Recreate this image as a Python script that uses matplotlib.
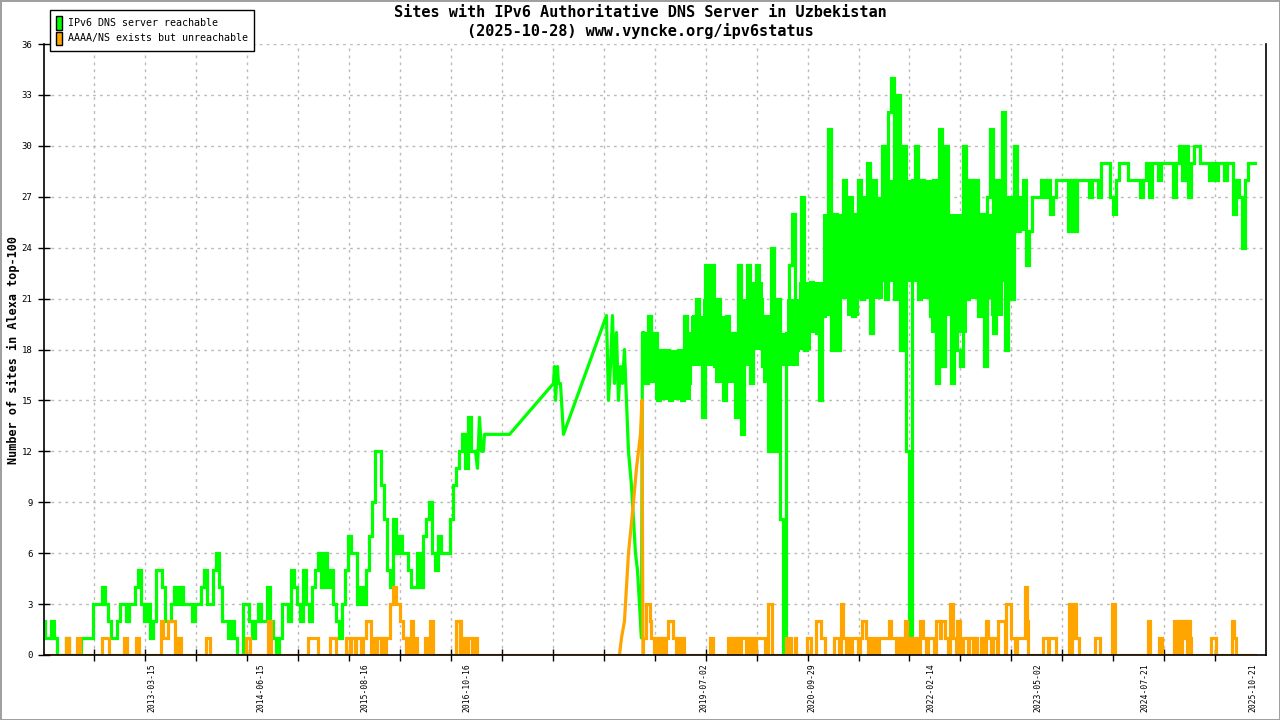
import numpy as np
import matplotlib.pyplot as plt
from matplotlib.patches import Patch

plt.rcParams['font.family'] = ['DejaVu Sans Mono']

# x axis is a plain sample position, one grid cell = 50.94 units
GRID = 50.94
X_MAX = 24 * GRID

title = "Sites with IPv6 Authoritative DNS Server in Uzbekistan\n(2025-10-28) www.vyncke.org/ipv6status"
y_label = "Number of sites in Alexa top-100"
series_names = ["IPv6 DNS server reachable", "AAAA/NS exists but unreachable"]

date_labels = ["2013-03-15", "2014-06-15", "2015-08-16", "2016-10-16", "2019-07-02",
               "2020-09-29", "2022-02-14", "2023-05-02", "2024-07-21", "2025-10-21"]
date_pos = [108.5, 217.5, 321.5, 423.5, 660.5, 768.5, 887.5, 994.5, 1101.5, 1209.5]

y_ticks = list(range(0, 37, 3))

# reachable: first dense stretch (one value every 3 units from 0)
green_step = 3
green_a_start = 0
green_a = [2, 1, 1, 2, 1, 0, 0, 0, 1, 0, 0, 0, 0, 1, 1, 1, 1, 3, 3, 3,
           4, 3, 2, 1, 1, 2, 3, 3, 2, 3, 3, 4, 5, 3, 2, 3, 1, 2, 5, 5,
           4, 2, 2, 3, 4, 3, 4, 3, 3, 3, 2, 3, 3, 4, 5, 3, 3, 5, 6, 4,
           2, 2, 1, 2, 1, 0, 0, 3, 3, 2, 1, 2,
           3, 2, 2, 4, 2, 1, 0, 1, 3, 3, 2, 5, 4, 3, 2, 5, 3, 2, 4, 5,
           6, 4, 6, 4, 5, 3, 2, 1, 3, 5, 7, 6, 6, 3, 4, 3, 5, 7, 9, 12,
           12, 10, 8, 5, 4, 8, 6, 7, 6, 6, 5, 4, 4, 6, 4, 7, 8, 9, 6, 5,
           7, 6, 6, 6, 8, 10, 11, 12, 13, 11, 14, 12, 12]

# reachable: sparse stretch joined by straight lines
green_gap_x = [432, 434, 436, 438, 440, 441, 466, 510, 511, 512, 514, 515, 517, 520,
               563, 565, 567, 569, 571, 573, 575, 577, 579, 581, 583, 585, 588, 590,
               592, 594, 596, 598, 599, 600]
green_gap_y = [12, 11, 14, 12, 12, 13, 13, 16, 17, 15, 17, 16, 16, 13,
               20, 15, 17, 20, 16, 19, 15, 17, 16, 18, 15, 12, 10, 8,
               6, 5, 3, 1, 19, 19]

# reachable: second dense stretch (one value every 3 units from 600)
green_b_start = 600
green_b = [19, 16, 20, 17, 19, 15, 18, 16, 18, 15, 17, 16, 18, 15, 20, 16, 19, 20, 21, 18,
           14, 23, 19, 23, 17, 21, 18, 15, 20, 17, 19, 14, 23, 13, 18, 23, 16, 19, 23,
           21, 17, 20, 12, 24, 12, 21, 8, 0, 19, 23, 26, 18, 20, 27, 18, 20, 22, 21, 19,
           15, 20, 22, 31, 18, 26, 18, 22, 28, 22, 27, 20, 26, 28, 21, 27, 29, 19, 28, 22,
           26, 30, 21, 32, 34, 21, 33,
           18, 30, 12, 0, 28, 30, 21, 28, 22, 27, 20, 28, 16, 31, 17, 30, 21, 16, 24, 18,
           17, 30, 21, 28, 22, 28, 20, 26, 17, 27, 31, 19, 28, 24, 32, 18, 27, 21, 30, 25,
           27, 28, 23, 25, 27, 27, 27, 28, 27, 28, 26, 27, 28, 28, 28, 28, 25, 28, 25, 28,
           28, 28, 28, 27, 28, 28, 27, 29, 29, 29, 27, 26, 28, 29, 29, 29, 28, 28, 28, 28,
           27, 28, 29, 27, 29, 29, 28, 29, 29, 29, 29, 27, 29, 30, 28, 30, 27, 29, 30, 30,
           29, 29, 29, 28, 29, 28, 29, 29, 28, 29, 29, 26, 28, 27, 24, 28, 29, 29, 29]

# reachable: solid core of the noisy band, one column every 12 units from 600
band_start = 600
band_width = 12
band_lo = [16, 15, 15, 15, 17, 17, 16, 16, 17, 18,
           16, 17, 17, 18, 19, 20, 21, 20, 21, 21,
           22, 22, 22, 21, 19, 20, 19, 21, 21, 20,
           22, 25]
band_hi = [19, 18, 18, 18, 20, 21, 20, 19, 21, 22,
           20, 19, 21, 22, 22, 26, 26, 26, 27, 27,
           28, 28, 28, 28, 28, 26, 26, 27, 26, 26,
           27, 27]

# unreachable: change points (value holds until the next point)
orange_x = [0, 23, 26, 34, 37, 59, 66, 81, 84, 92.5, 96, 118, 120, 125, 131.5, 135, 138,
            163, 166.5, 203, 206.5, 225, 228, 265, 275, 287, 293, 302.5, 306.5, 308, 312,
            313, 318, 320, 323, 328, 330, 332, 334, 338, 339, 342, 343, 346.5, 350, 353,
            356.5, 360, 363, 364, 366, 368, 370, 372, 374, 381.5, 385, 386.5, 390, 412.5,
            416.5, 417, 418, 420, 423, 425, 428.5, 431, 434,
            599.5, 600, 603, 606.5, 608, 611, 612, 615, 616, 618, 619, 622, 623, 625, 630,
            633, 635, 637, 640, 641, 666.5, 670, 685, 688, 690, 693, 694, 697, 698, 703,
            705, 706, 708, 711, 713, 721.5, 725, 728.5, 743, 745, 746, 748, 752, 753, 764,
            768, 773, 778, 782, 791, 796, 798, 800, 803, 805, 807, 809, 815, 816.5, 819,
            823, 825, 827, 829, 831, 833, 836, 846, 848, 853, 854, 857, 858, 861, 862, 864,
            866, 868, 868.5, 872, 873, 875, 877, 880, 883, 885, 891, 893, 896.5, 898, 901.5,
            905, 906.5, 910, 913, 914, 916.5, 920, 925, 926, 930, 931, 934, 938, 941, 942.5,
            945, 948, 950, 954, 955, 961.5, 963, 968, 972, 974, 981.5, 984, 985, 1000, 1005,
            1006, 1013, 1026, 1028, 1029, 1031, 1033, 1036, 1051.5, 1056.5, 1069, 1072,
            1105, 1107, 1116, 1119, 1130.5, 1133, 1136, 1138, 1139, 1141, 1142, 1144, 1145,
            1147, 1148, 1168, 1173, 1189, 1191, 1193, 1212]
orange_y = [0, 1, 0, 1, 0, 1, 0, 1, 0, 1, 0, 2, 1, 2, 0, 1, 0,
            1, 0, 1, 0, 2, 0, 1, 0, 1, 0, 1, 0, 1, 0,
            1, 0, 1, 2, 0, 1, 0, 1, 0, 1, 0, 1, 3, 4, 3,
            2, 1, 0, 1, 0, 2, 0, 1, 0, 1, 0, 2, 0, 2,
            0, 2, 0, 1, 0, 1, 0, 1, 0,
            0, 1, 3, 2, 1, 0, 1, 0, 1, 0, 1, 0, 1, 2, 1,
            0, 1, 0, 1, 0, 1, 0, 1, 0, 1, 0, 1, 0, 1, 0,
            1, 0, 1, 0, 1, 0, 3, 0, 1, 0, 1, 0, 1, 0, 1,
            0, 2, 1, 0, 1, 0, 3, 1, 0, 1, 0, 1, 0, 1, 2,
            1, 0, 1, 0, 1, 0, 1, 2, 1, 0, 1, 0, 1, 0, 2, 0,
            1, 0, 1, 0, 1, 0, 2, 1, 0, 1, 0, 2, 1, 2, 1,
            0, 3, 1, 0, 2, 0, 1, 0, 1, 0, 1, 0, 1, 0, 2,
            1, 0, 1, 0, 2, 0, 3, 1, 0, 1, 4, 2, 0, 1, 0,
            1, 0, 3, 0, 1, 3, 1, 0, 1, 0, 3, 0,
            2, 0, 1, 0, 2, 0, 2, 0, 2, 1, 2, 0, 2,
            1, 0, 1, 0, 2, 1, 0, 0]

# unreachable: straight ramp before the peak
orange_ramp_x = [576, 578, 581, 583, 585, 590, 593, 597, 598.5, 599.5]
orange_ramp_y = [0, 1, 2, 4, 6, 9, 11, 13, 15, 0]

GREEN = '#00ff00'
ORANGE = '#ffa500'
LW = 2.3

fig = plt.figure(figsize=(12.8, 7.2), dpi=100, facecolor='white',
                 edgecolor='#a0a0a0', linewidth=2)
ax = fig.add_axes([43.5 / 1280, 65 / 720, (1266 - 43.5) / 1280, (655 - 44) / 720])

# noisy core first, the line goes over it
bx = band_start + band_width * np.arange(len(band_lo) + 1)
ax.fill_between(bx, band_lo + band_lo[-1:], band_hi + band_hi[-1:], step='post',
                color=GREEN, lw=0)

xa = green_a_start + green_step * np.arange(len(green_a))
xb = green_b_start + green_step * np.arange(len(green_b))
ax.plot(xa, green_a, color=GREEN, lw=LW, drawstyle='steps-mid', solid_joinstyle='miter')
ax.plot(green_gap_x, green_gap_y, color=GREEN, lw=LW)
ax.plot(xb, green_b, color=GREEN, lw=LW, drawstyle='steps-mid', solid_joinstyle='miter')

ax.step(orange_x, orange_y, where='post', color=ORANGE, lw=LW, solid_joinstyle='miter')
ax.plot(orange_ramp_x, orange_ramp_y, color=ORANGE, lw=LW)

ax.set_xlim(0, X_MAX)
ax.set_ylim(0, 36)

ax.set_yticks(y_ticks)
ax.set_yticklabels([str(v) for v in y_ticks], fontsize=6.5)
ax.tick_params(axis='y', direction='inout', length=8, width=1, pad=4)

ax.set_xticks(date_pos)
ax.set_xticklabels(date_labels, rotation=90, fontsize=5.8)
ax.tick_params(axis='x', which='major', length=0, pad=6)
ax.set_xticks(np.arange(1, 24) * GRID, minor=True)
ax.tick_params(axis='x', which='minor', direction='inout', length=8, width=1)

ax.grid(True, axis='y', which='major', color='#bbbbbb', linestyle=(0, (2, 3)), lw=1)
ax.grid(True, axis='x', which='minor', color='#bbbbbb', linestyle=(0, (2, 3)), lw=1)
ax.grid(False, axis='x', which='major')
ax.set_axisbelow(True)

ax.spines['top'].set_visible(False)
for side in ['left', 'bottom', 'right']:
    ax.spines[side].set_color('black')
    ax.spines[side].set_linewidth(1.2)

fig.text(13 / 1280, 1 - 350 / 720, y_label, rotation=90, ha='center', va='center',
         fontsize=8.5, fontweight='bold')
fig.text(0.5, 1 - 22 / 720, title, ha='center', va='center', fontsize=11,
         fontweight='semibold', linespacing=1.3)

handles = [Patch(facecolor=GREEN, edgecolor='black', lw=1),
           Patch(facecolor=ORANGE, edgecolor='black', lw=1)]
leg = fig.legend(handles, series_names, loc='upper left',
                 bbox_to_anchor=(50 / 1280, 1 - 10 / 720), fontsize=7.2,
                 handlelength=0.6, handleheight=1.7, handletextpad=0.6,
                 labelspacing=0.2, borderpad=0.6, borderaxespad=0,
                 fancybox=False, framealpha=1)
leg.get_frame().set_edgecolor('black')
leg.get_frame().set_linewidth(1)

fig.savefig('out.png', dpi=100, facecolor='white', edgecolor=fig.get_edgecolor())
